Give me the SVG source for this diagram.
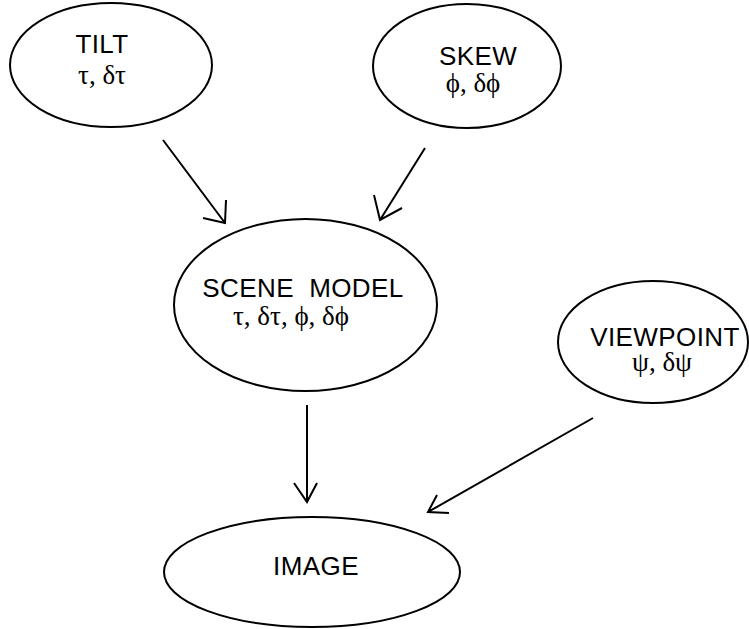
<svg xmlns="http://www.w3.org/2000/svg" width="749" height="629" viewBox="0 0 749 629">
<style>
.n{fill:#fff;stroke:#000;stroke-width:2}
.t{font-family:"Liberation Sans",Arial,sans-serif;font-size:26px;letter-spacing:0.4px;text-anchor:middle;fill:#000;white-space:pre}
.g{font-family:"Liberation Serif","Times New Roman",serif;font-size:27px;text-anchor:middle;fill:#000;white-space:pre}
.c{fill:none;stroke:#000;stroke-width:2}
</style>
<rect width="749" height="629" fill="#fff"/>
<g id="tilt">
<ellipse class="n" cx="111" cy="65" rx="101" ry="62"/>
<text class="t" x="102" y="53">TILT</text>
<text class="g" x="102" y="84">τ, δτ</text>
</g>
<g id="skew">
<ellipse class="n" cx="467" cy="66" rx="94" ry="62"/>
<text class="t" x="478" y="65">SKEW</text>
<text class="g" x="473" y="92">ϕ, δϕ</text>
</g>
<g id="scene">
<ellipse class="n" cx="305.5" cy="305" rx="131.5" ry="86"/>
<text class="t" x="303" y="297">SCENE  MODEL</text>
<text class="g" x="291" y="325">τ, δτ, ϕ, δϕ</text>
</g>
<g id="viewpoint">
<ellipse class="n" cx="653" cy="342" rx="95" ry="61"/>
<text class="t" x="665" y="346">VIEWPOINT</text>
<text class="g" x="662" y="371">ψ, δψ</text>
</g>
<g id="image">
<ellipse class="n" cx="312" cy="572" rx="148" ry="55"/>
<text class="t" x="316" y="575">IMAGE</text>
</g>
<g id="connectors">
<path class="c" d="M163,140 L225,223 M226,200 L225,223 L203,218"/>
<path class="c" d="M425,148 L380,220 M374,195 L380,220 L402,208"/>
<path class="c" d="M307,405 L307,502 M294,483 L307,502 L317,483"/>
<path class="c" d="M593,418 L428,512 M437,495 L428,512 L449,513"/>
</g>
</svg>
